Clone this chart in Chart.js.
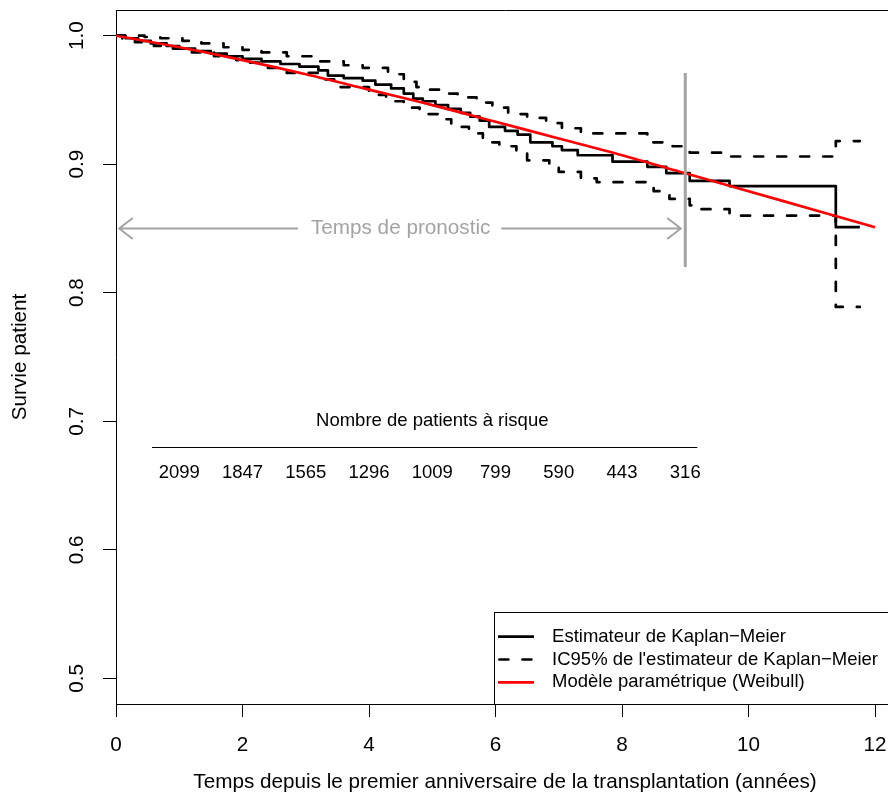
<!DOCTYPE html>
<html>
<head>
<meta charset="utf-8">
<script src="https://cdn.jsdelivr.net/npm/chart.js@4/dist/chart.umd.min.js"></script>
<style>
  html, body { margin: 0; padding: 0; overflow: hidden; background: #ffffff; }
  canvas { display: block; }
</style>
</head>
<body>
<canvas id="survie" width="900" height="812" style="width:900px;height:812px"></canvas>
<script>
// Axis ticks
const xTicks = [0, 2, 4, 6, 8, 10, 12];
const xTickLabels = ['0', '2', '4', '6', '8', '10', '12'];
const yTicks = [0.5, 0.6, 0.7, 0.8, 0.9, 1.0];
const yTickLabels = ['0.5', '0.6', '0.7', '0.8', '0.9', '1.0'];

// Kaplan-Meier estimate (time in years, survival after each step)
const kmTimes = [0, 0.15, 0.35, 0.55, 0.8, 1.0, 1.25, 1.5, 1.75, 2.0, 2.3, 2.6, 2.9, 3.2, 3.35, 3.6, 3.9, 4.1, 4.35, 4.55, 4.7, 4.85, 5.05, 5.25, 5.45, 5.6, 5.75, 5.9, 6.15, 6.35, 6.55, 6.9, 7.05, 7.3, 7.85, 8.4, 8.7, 9.07, 9.7, 11.38, 11.76];
const kmSurv  = [1.000, 0.998, 0.996, 0.994, 0.992, 0.990, 0.988, 0.986, 0.984, 0.982, 0.980, 0.978, 0.976, 0.973, 0.969, 0.967, 0.965, 0.962, 0.959, 0.955, 0.951, 0.949, 0.946, 0.943, 0.940, 0.937, 0.934, 0.929, 0.926, 0.923, 0.917, 0.914, 0.911, 0.907, 0.902, 0.898, 0.893, 0.887, 0.883, 0.851, 0.851];

// 95% confidence band of the Kaplan-Meier estimate
const ciUpTimes = [0, 0.45, 0.7, 1.05, 1.35, 1.7, 2.0, 2.3, 2.7, 3.2, 3.6, 3.9, 4.3, 4.55, 4.75, 4.95, 5.15, 5.4, 5.7, 5.95, 6.2, 6.5, 6.8, 7.05, 7.35, 8.4, 8.8, 9.07, 9.6, 11.38, 11.76];
const ciUp      = [1.000, 0.999, 0.998, 0.996, 0.994, 0.991, 0.989, 0.987, 0.984, 0.980, 0.977, 0.975, 0.970, 0.964, 0.960, 0.958, 0.955, 0.952, 0.948, 0.944, 0.939, 0.936, 0.932, 0.928, 0.924, 0.917, 0.914, 0.909, 0.906, 0.918, 0.918];
const ciLowTimes = [0, 0.1, 0.3, 0.6, 0.9, 1.2, 1.55, 1.9, 2.0, 2.3, 2.7, 3.2, 3.45, 4.0, 4.27, 4.55, 4.8, 5.1, 5.3, 5.58, 5.8, 6.06, 6.33, 6.5, 6.85, 7.0, 7.35, 7.6, 8.5, 8.75, 9.07, 9.25, 9.7, 11.38, 11.76];
const ciLow      = [1.000, 0.997, 0.995, 0.992, 0.990, 0.987, 0.984, 0.981, 0.979, 0.975, 0.971, 0.966, 0.960, 0.954, 0.949, 0.944, 0.939, 0.935, 0.929, 0.924, 0.917, 0.914, 0.909, 0.903, 0.900, 0.894, 0.889, 0.886, 0.879, 0.873, 0.868, 0.865, 0.860, 0.789, 0.789];

// Parametric (Weibull) survival curve
const weibullTimes = [0, 1, 2, 3, 4, 5, 6, 7, 8, 9, 10, 11, 12];
const weibullSurv  = [1.000, 0.991, 0.981, 0.970, 0.958, 0.946, 0.933, 0.920, 0.907, 0.893, 0.879, 0.865, 0.851];

// Number at risk
const riskTimes  = [1, 2, 3, 4, 5, 6, 7, 8, 9];
const riskCounts = [2099, 1847, 1565, 1296, 1009, 799, 590, 443, 316];

// Prognosis horizon
const prognosisTime = 9;
const prognosisLabel = 'Temps de pronostic';
const riskTitle = 'Nombre de patients à risque';

const legendLabels = ['Estimateur de Kaplan\u2212Meier', "IC95% de l'estimateur de Kaplan\u2212Meier", 'Modèle paramétrique (Weibull)'];
const xTitle = 'Temps depuis le premier anniversaire de la transplantation (années)';
const yTitle = 'Survie patient';

const FONT = '"Liberation Sans", Arial, Helvetica, sans-serif';
const GREY = '#a3a3a3';
const LW = 2.7;
const DASH = [9, 14];

const pts = (xs, ys) => xs.map((t, i) => ({ x: t, y: ys[i] }));

// Plot frame (top and right sides; left and bottom come from the axes)
const frame = {
  id: 'frame',
  afterDraw(chart) {
    const { ctx, chartArea: a } = chart;
    ctx.save();
    ctx.strokeStyle = '#000';
    ctx.lineWidth = 1;
    ctx.beginPath();
    ctx.moveTo(Math.round(a.left) + 0.5, Math.round(a.top) + 0.5);
    ctx.lineTo(Math.round(a.right) + 0.5, Math.round(a.top) + 0.5);
    ctx.lineTo(Math.round(a.right) + 0.5, Math.round(a.bottom) + 0.5);
    ctx.stroke();
    ctx.restore();
  }
};

// Prognosis marker, arrow, number-at-risk table and legend
const annotations = {
  id: 'annotations',
  afterDatasetsDraw(chart) {
    const { ctx, scales: { x, y } } = chart;
    ctx.save();

    // vertical marker at the prognosis horizon
    const px = x.getPixelForValue(prognosisTime);
    ctx.strokeStyle = GREY;
    ctx.lineWidth = 3;
    ctx.lineCap = 'butt';
    ctx.beginPath();
    ctx.moveTo(px, y.getPixelForValue(0.971));
    ctx.lineTo(px, y.getPixelForValue(0.820));
    ctx.stroke();

    // double-headed arrow with its label
    const ay = y.getPixelForValue(0.85);
    const x0 = x.getPixelForValue(0.05);
    const x1 = x.getPixelForValue(prognosisTime - 0.07);
    ctx.lineWidth = 2;
    ctx.lineCap = 'round';
    ctx.lineJoin = 'round';
    ctx.beginPath();
    ctx.moveTo(x0, ay); ctx.lineTo(x1, ay);
    ctx.moveTo(x0 + 13, ay - 10); ctx.lineTo(x0, ay); ctx.lineTo(x0 + 13, ay + 10);
    ctx.moveTo(x1 - 13, ay - 10); ctx.lineTo(x1, ay); ctx.lineTo(x1 - 13, ay + 10);
    ctx.stroke();
    ctx.font = '20.7px ' + FONT;
    const tx = x.getPixelForValue(4.5);
    const tw = ctx.measureText(prognosisLabel).width;
    ctx.fillStyle = '#ffffff';
    ctx.fillRect(tx - tw / 2 - 13, ay - 6, tw + 24, 12);
    ctx.fillStyle = GREY;
    ctx.textAlign = 'center';
    ctx.textBaseline = 'middle';
    ctx.fillText(prognosisLabel, tx, ay);

    // number at risk
    ctx.fillStyle = '#000';
    ctx.font = '18.5px ' + FONT;
    ctx.fillText(riskTitle, x.getPixelForValue(5), y.getPixelForValue(0.70));
    ctx.strokeStyle = '#000';
    ctx.lineWidth = 1.2;
    ctx.lineCap = 'butt';
    const ly = Math.round(y.getPixelForValue(0.68)) + 0.5;
    ctx.beginPath();
    ctx.moveTo(x.getPixelForValue(0.57), ly);
    ctx.lineTo(x.getPixelForValue(9.19), ly);
    ctx.stroke();
    riskTimes.forEach((t, i) => {
      ctx.fillText(String(riskCounts[i]), x.getPixelForValue(t), y.getPixelForValue(0.66));
    });

    ctx.restore();
  },
  afterDraw(chart) {
    const { ctx, chartArea: a } = chart;
    ctx.save();
    ctx.font = '18.5px ' + FONT;
    const maxW = Math.max(...legendLabels.map(s => ctx.measureText(s).width));
    const right = a.right;
    const bottom = a.bottom;
    const textLeft = right - 16 - maxW;
    const left = Math.round(textLeft - 58);
    const top = Math.round(bottom - 92);
    ctx.fillStyle = '#ffffff';
    ctx.fillRect(left, top, right - left, bottom - top);
    ctx.strokeStyle = '#000';
    ctx.lineWidth = 1;
    ctx.strokeRect(left + 0.5, top + 0.5, right - left, bottom - top);

    const styles = [
      { color: '#000', dash: [] },
      { color: '#000', dash: DASH },
      { color: '#ff0000', dash: [] }
    ];
    legendLabels.forEach((label, i) => {
      const ry = top + 24.7 + i * 22.8;
      ctx.strokeStyle = styles[i].color;
      ctx.lineWidth = LW;
      ctx.lineCap = styles[i].dash.length ? 'round' : 'butt';
      ctx.setLineDash(styles[i].dash);
      ctx.beginPath();
      ctx.moveTo(left + 4 + (styles[i].dash.length ? 1.4 : 0), ry);
      ctx.lineTo(left + 40, ry);
      ctx.stroke();
      ctx.setLineDash([]);
      ctx.fillStyle = '#000';
      ctx.textAlign = 'left';
      ctx.textBaseline = 'middle';
      ctx.fillText(label, textLeft, ry);
    });
    ctx.restore();
  }
};

new Chart(document.getElementById('survie'), {
  type: 'line',
  data: {
    datasets: [
      {
        label: legendLabels[2],
        data: pts(weibullTimes, weibullSurv),
        borderColor: '#ff0000',
        borderWidth: LW,
        cubicInterpolationMode: 'monotone',
        pointRadius: 0,
        order: 0
      },
      {
        label: legendLabels[0],
        data: pts(kmTimes, kmSurv),
        borderColor: '#000000',
        borderWidth: LW,
        stepped: 'before',
        borderJoinStyle: 'round',
        pointRadius: 0,
        order: 1
      },
      {
        label: legendLabels[1],
        data: pts(ciUpTimes, ciUp),
        borderColor: '#000000',
        borderWidth: LW,
        borderDash: DASH,
        borderCapStyle: 'round',
        borderJoinStyle: 'round',
        stepped: 'before',
        pointRadius: 0,
        order: 2
      },
      {
        label: legendLabels[1],
        data: pts(ciLowTimes, ciLow),
        borderColor: '#000000',
        borderWidth: LW,
        borderDash: DASH,
        borderCapStyle: 'round',
        borderJoinStyle: 'round',
        stepped: 'before',
        pointRadius: 0,
        order: 3
      }
    ]
  },
  options: {
    responsive: false,
    animation: false,
    devicePixelRatio: 1,
    layout: { padding: { left: 0, top: 10, right: 6, bottom: 0 } },
    plugins: {
      legend: { display: false },
      tooltip: { enabled: false }
    },
    scales: {
      x: {
        type: 'linear',
        min: 0,
        max: 12.3,
        afterFit(s) { s.height = 108; s.paddingLeft = 0; s.paddingRight = 0; },
        afterBuildTicks(s) { s.ticks = xTicks.map(v => ({ value: v })); },
        border: { display: true, color: '#000', width: 1 },
        grid: { display: true, drawOnChartArea: false, drawTicks: true, tickLength: 13, color: '#000', lineWidth: 1 },
        ticks: {
          autoSkip: false,
          maxRotation: 0,
          minRotation: 0,
          padding: 16,
          color: '#000',
          font: { family: FONT, size: 20.7 },
          callback: (v) => xTickLabels[xTicks.indexOf(v)]
        },
        title: {
          display: true,
          text: xTitle,
          color: '#000',
          font: { family: FONT, size: 20.7 },
          padding: { top: 0, bottom: 17 }
        }
      },
      y: {
        type: 'linear',
        min: 0.48,
        max: 1.02,
        afterFit(s) { s.width = 116; s.paddingTop = 0; s.paddingBottom = 0; },
        afterBuildTicks(s) { s.ticks = yTicks.map(v => ({ value: v })); },
        border: { display: true, color: '#000', width: 1 },
        grid: { display: true, drawOnChartArea: false, drawTicks: true, tickLength: 13, color: '#000', lineWidth: 1 },
        ticks: {
          autoSkip: false,
          minRotation: 90,
          maxRotation: 90,
          crossAlign: 'center',
          padding: 11,
          color: '#000',
          font: { family: FONT, size: 20.7 },
          callback: (v) => yTickLabels[yTicks.findIndex(t => Math.abs(t - v) < 1e-9)]
        },
        title: {
          display: true,
          text: yTitle,
          color: '#000',
          font: { family: FONT, size: 20.7 },
          padding: { top: 8, bottom: 0 }
        }
      }
    }
  },
  plugins: [frame, annotations]
});
</script>
</body>
</html>
